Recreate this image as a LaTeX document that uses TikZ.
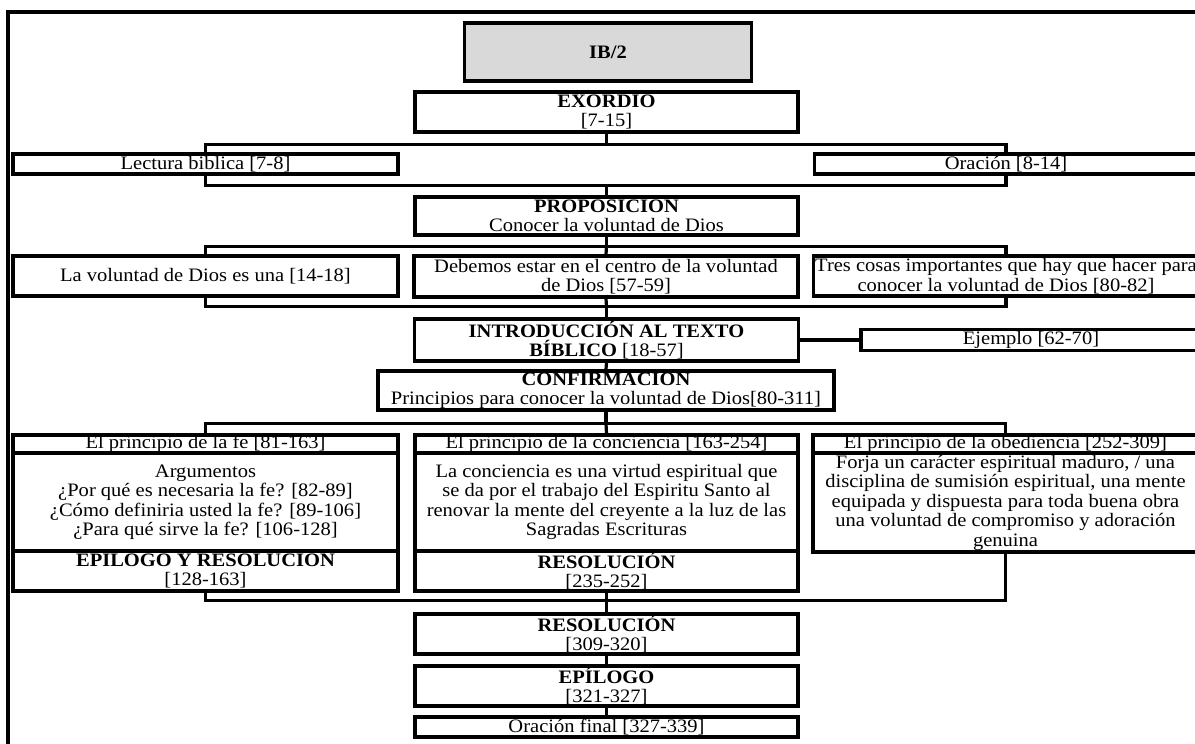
\documentclass[tikz,border=0pt]{standalone}
\usepackage{fontspec}
\setmainfont{Liberation Serif}[FakeStretch=1.08]
\usepackage{tikz}

\tikzset{
    sect/.style={rectangle, draw, line width=3.2pt, fill=white, inner sep=0pt, align=center, font=\fontsize{19}{19.5}\selectfont},
    link/.style={line width=3.2pt},
    border/.style={line width=3.2pt}
}

\begin{document}
\begin{tikzpicture}[x=1pt, y=-1pt]
    \useasboundingbox (0,0) rectangle (1195,744);
    \draw[border] (8,760) |- (1210,12);

    \node[sect, fill=black!15, minimum width=287, minimum height=58] (ib) at (608,52) {\textbf{IB/2}};
    \node[sect, minimum width=383, minimum height=40] (exordio) at (606.5,112) {\textbf{EXORDIO}\\{[7-15]}};
    \node[sect, minimum width=385, minimum height=20] (lectura) at (205.5,164) {Lectura biblica [7-8]};
    \node[sect, minimum width=383, minimum height=20] (oracion) at (1006,164) {Oración [8-14]};
    \node[sect, minimum width=383, minimum height=38] (proposicion) at (606.5,216) {\textbf{PROPOSICION}\\Conocer la voluntad de Dios};
    \node[sect, minimum width=385, minimum height=40] (voluntad) at (205.5,276) {La voluntad de Dios es una [14-18]};
    \node[sect, minimum width=384, minimum height=41] (debemos) at (606,276.5) {Debemos estar en el centro de la voluntad\\de Dios [57-59]};
    \node[sect, minimum width=385, minimum height=40] (tres) at (1006,276) {Tres cosas importantes que hay que hacer para\\conocer la voluntad de Dios [80-82]};
    \node[sect, minimum width=384, minimum height=42] (intro) at (606.5,340) {\textbf{INTRODUCCIÓN AL TEXTO}\\\textbf{BÍBLICO} [18-57]};
    \node[sect, minimum width=340, minimum height=21] (ejemplo) at (1031,340) {Ejemplo [62-70]};
    \node[sect, minimum width=456, minimum height=39] (confirmacion) at (606,390.5) {\textbf{CONFIRMACION}\\Principios para conocer la voluntad de Dios[80-311]};

    \node[sect, minimum width=385, minimum height=18] (feh) at (205.5,444) {El principio de la fe [81-163]};
    \node[sect, minimum width=385, minimum height=98] (feb) at (205.5,502) {Argumentos\\¿Por qué es necesaria la fe? [82-89]\\¿Cómo definiria usted la fe? [89-106]\\¿Para qué sirve la fe? [106-128]};
    \node[sect, minimum width=385, minimum height=40] (fer) at (205.5,571) {\textbf{EPILOGO Y RESOLUCION}\\{[128-163]}};
    \node[sect, minimum width=383, minimum height=18] (conh) at (606.5,444) {El principio de la conciencia [163-254]};
    \node[sect, minimum width=383, minimum height=98] (conb) at (606.5,502) {La conciencia es una virtud espiritual que\\se da por el trabajo del Espiritu Santo al\\renovar la mente del creyente a la luz de las\\Sagradas Escrituras};
    \node[sect, minimum width=383, minimum height=40] (conr) at (606.5,571) {\textbf{RESOLUCIÓN}\\{[235-252]}};
    \node[sect, minimum width=385, minimum height=18] (obeh) at (1005.5,444) {El principio de la obediencia [252-309]};
    \node[sect, minimum width=385, minimum height=99] (obeb) at (1005.5,502.5) {Forja un carácter espiritual maduro, / una\\disciplina de sumisión espiritual, una mente\\equipada y dispuesta para toda buena obra\\una voluntad de compromiso y adoración\\genuina};

    \node[sect, minimum width=383, minimum height=40] (resolucion) at (606.5,634) {\textbf{RESOLUCIÓN}\\{[309-320]}};
    \node[sect, minimum width=383, minimum height=40] (epilogo) at (606.5,686) {\textbf{EPÍLOGO}\\{[321-327]}};
    \node[sect, minimum width=383, minimum height=20] (final) at (606.5,727) {Oración final [327-339]};

    \draw[link] (exordio.south) -- ++(0,11) coordinate (ex1);
    \draw[link] (lectura.north) |- (ex1) -| (oracion.north);
    \draw[link] (proposicion.north) -- ++(0,-10) coordinate (ex2);
    \draw[link] (lectura.south) |- (ex2) -| (oracion.south);

    \draw[link] (proposicion.south) -- ++(0,10) coordinate (pr1);
    \draw[link] (voluntad.north) |- (pr1) -| (tres.north);
    \draw[link] (pr1) -- (debemos.north);
    \draw[link] (intro.north) -- ++(0,-11) coordinate (pr2);
    \draw[link] (voluntad.south) |- (pr2) -| (tres.south);
    \draw[link] (debemos.south) -- (pr2);

    \draw[link] (intro.east) -- (ejemplo.west);
    \draw[link] (intro.south) -- (confirmacion.north);

    \draw[link] (confirmacion.south) -- ++(0,12) coordinate (cf1);
    \draw[link] (feh.north) |- (cf1) -| (obeh.north);
    \draw[link] (cf1) -- (conh.north);
    \draw[link] (resolucion.north) -- ++(0,-12) coordinate (cf2);
    \draw[link] (fer.south) |- (cf2) -| (obeb.south);
    \draw[link] (conr.south) -- (cf2);

    \draw[link] (resolucion.south) -- (epilogo.north);
    \draw[link] (epilogo.south) -- (final.north);
\end{tikzpicture}
\end{document}
